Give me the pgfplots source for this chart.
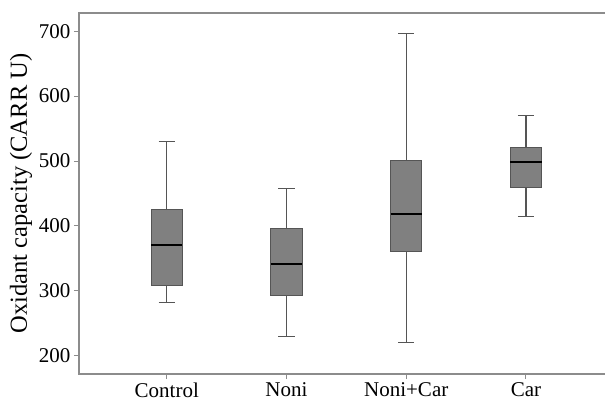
\documentclass[border=0pt]{standalone}
\usepackage{pgfplots}
\pgfplotsset{compat=1.18}
\usepackage{fontspec}
\setmainfont{Liberation Serif}
\definecolor{boxfill}{HTML}{808080}
\definecolor{boxedge}{HTML}{555555}
\definecolor{axgray}{HTML}{8C8C8C}
\begin{document}
\begin{tikzpicture}
\begin{axis}[
  name=ax,
  scale only axis,
  width=520pt, height=361pt,
  xmin=0.267, xmax=4.61,
  ymin=172, ymax=728,
  axis lines*=left,
  axis line style={draw=none, -},
  xtick={1,2,3,4},
  xticklabels={Control,Noni,Noni+Car,Car},
  ytick={200,300,400,500,600,700},
  tick align=outside,
  major tick length=5pt,
  tick style={axgray, line width=1pt},
  /pgf/number format/assume math mode=true,
  ticklabel style={font=\fontsize{21}{25}\selectfont},
  ylabel={Oxidant capacity (CARR U)},
  ylabel style={font=\fontsize{24.5}{28}\selectfont},
  unbounded coords=jump,
  clip=false,
]
\draw[axgray, line width=1.3pt] ([xshift=6pt]rel axis cs:1,1) -- (rel axis cs:0,1) -- (rel axis cs:0,0) -- ([xshift=6pt]rel axis cs:1,0);
% whiskers and caps
\addplot[boxedge, line width=1.2pt, mark=none] coordinates {
 (1,426) (1,530) (nan,nan) (0.933,530) (1.067,530) (nan,nan) (1,309) (1,282) (nan,nan) (0.933,282) (1.067,282) (nan,nan)
 (2,396) (2,458) (nan,nan) (1.933,458) (2.067,458) (nan,nan) (2,293) (2,230) (nan,nan) (1.933,230) (2.067,230) (nan,nan)
 (3,501) (3,696) (nan,nan) (2.933,696) (3.067,696) (nan,nan) (3,360) (3,220) (nan,nan) (2.933,220) (3.067,220) (nan,nan)
 (4,521) (4,570) (nan,nan) (3.933,570) (4.067,570) (nan,nan) (4,460) (4,415) (nan,nan) (3.933,415) (4.067,415)
};
% boxes
\addplot[draw=boxedge, fill=boxfill, line width=1pt, mark=none] coordinates {(0.87,309) (1.13,309) (1.13,426) (0.87,426)} --cycle;
\addplot[draw=boxedge, fill=boxfill, line width=1pt, mark=none] coordinates {(1.87,293) (2.13,293) (2.13,396) (1.87,396)} --cycle;
\addplot[draw=boxedge, fill=boxfill, line width=1pt, mark=none] coordinates {(2.87,360) (3.13,360) (3.13,501) (2.87,501)} --cycle;
\addplot[draw=boxedge, fill=boxfill, line width=1pt, mark=none] coordinates {(3.87,460) (4.13,460) (4.13,521) (3.87,521)} --cycle;
% medians
\addplot[black, line width=2pt, mark=none] coordinates {
 (0.87,371) (1.13,371) (nan,nan) (1.87,341) (2.13,341) (nan,nan) (2.87,419) (3.13,419) (nan,nan) (3.87,498) (4.13,498)
};
\end{axis}
\pgfresetboundingbox
\path ([xshift=-79pt,yshift=-28pt]ax.south west) rectangle ([xshift=6pt,yshift=13pt]ax.north east);
\end{tikzpicture}
\end{document}
